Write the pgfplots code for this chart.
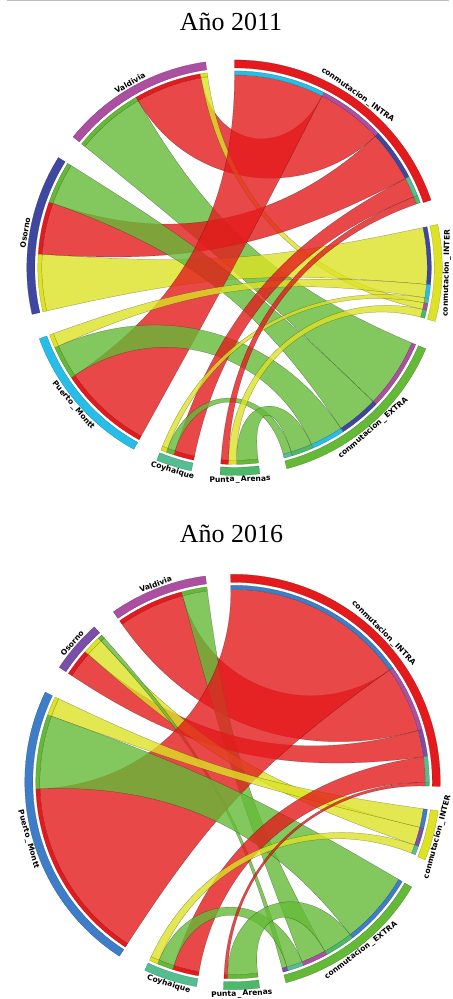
\documentclass[border=0pt]{standalone}
\usepackage{fontspec}
\setmainfont{Liberation Serif}
\newfontfamily\labfont{DejaVu Sans}
\usepackage{pgfplots}
\pgfplotsset{compat=1.18}
\usepackage{pgfplotstable}

\definecolor{cINTRA}{RGB}{228,26,28}
\definecolor{cINTER}{RGB}{221,226,36}
\definecolor{cEXTRA}{RGB}{100,186,55}
\definecolor{cVAL}{RGB}{172,79,160}
\definecolor{cOSa}{RGB}{62,72,160}
\definecolor{cOSb}{RGB}{123,78,170}
\definecolor{cPMa}{RGB}{38,190,232}
\definecolor{cPMb}{RGB}{62,125,200}
\definecolor{cCOY}{RGB}{85,190,145}
\definecolor{cPA}{RGB}{75,185,105}

% ---- 2011: sectors (start/end angle, degrees) ----
\pgfplotstableread{
s1 s2 col
90 19 cINTRA
12 -15 cINTER
-23 -75.4 cEXTRA
-83 -94 cPA
-102 -112 cCOY
-119 -160 cPMa
193 148 cOSa
141 98 cVAL
}\secsA
% ---- 2011: links (origin arc a1-a2, destination arc b1-b2) ----
\pgfplotstableread{
a1 a2 b1 b2 lc oc
141 120 -23 -44 cEXTRA cVAL
120 100 63 43 cINTRA cVAL
100 98 -10.5 -12.5 cINTER cVAL
193 176 12 -5 cINTER cOSa
176 160.5 43 27.5 cINTRA cOSa
160.5 148 -44 -56.5 cEXTRA cOSa
-119 -146 90 63 cINTRA cPMa
-146 -156 -56.5 -66.5 cEXTRA cPMa
-156 -160 -5 -9 cINTER cPMa
-102 -108 27.5 21.5 cINTRA cCOY
-108 -110.3 -72.9 -75.4 cEXTRA cCOY
-110.3 -112 -9 -10.5 cINTER cCOY
-83 -89.4 -66.5 -72.9 cEXTRA cPA
-89.4 -91.8 -12.5 -14.9 cINTER cPA
-91.8 -94 21.5 19.3 cINTRA cPA
}\linksA

% ---- 2016 ----
\pgfplotstableread{
s1 s2 col
90.5 -1.2 cINTRA
-8 -22 cINTER
-30.4 -75.1 cEXTRA
-82.5 -92.5 cPA
-100 -115 cCOY
-123 -205.6 cPMb
146.5 131.7 cOSb
125 97.5 cVAL
}\secsB
\pgfplotstableread{
a1 a2 b1 b2 lc oc
125 105 35.5 15.5 cINTRA cVAL
105 97.5 -61.4 -68.9 cEXTRA cVAL
146.5 138.5 15.5 7.5 cINTRA cOSb
138.5 133 -13.6 -19.1 cINTER cOSb
133 131.7 -73.6 -75.1 cEXTRA cOSb
-123 -178 90.5 35.5 cINTRA cPMb
-178 -200 -30.4 -52.4 cEXTRA cPMb
-200 -205.6 -8 -13.6 cINTER cPMb
-100 -107.7 7.5 -0.2 cINTRA cCOY
-107.7 -112.4 -68.9 -73.6 cEXTRA cCOY
-112.4 -115 -19.1 -21.7 cINTER cCOY
-82.5 -91.5 -52.4 -61.4 cEXTRA cPA
-91.5 -92.5 -0.2 -1.2 cINTRA cPA
}\linksB

\newcommand\ribbon[5]{%
  \pgfmathsetmacro\rbd{mod(abs((#2)-(#3)),360)}%
  \pgfmathsetmacro\kA{193*max(0.1,0.75-0.0035*min(\rbd,360-\rbd))}%
  \pgfmathsetmacro\rbd{mod(abs((#4)-(#1)),360)}%
  \pgfmathsetmacro\kB{193*max(0.1,0.75-0.0035*min(\rbd,360-\rbd))}%
  \edef\temp{\noexpand\fill[fill=#5, fill opacity=0.8, draw=black, draw opacity=0.45, line width=0.25pt]
    (axis cs:{193*cos(#1)},{193*sin(#1)}) arc[start angle=#1, end angle=#2, radius=193pt]
    .. controls (axis cs:{\kA*cos(#2)},{\kA*sin(#2)}) and (axis cs:{\kA*cos(#3)},{\kA*sin(#3)}) .. (axis cs:{193*cos(#3)},{193*sin(#3)})
    arc[start angle=#3, end angle=#4, radius=193pt]
    .. controls (axis cs:{\kB*cos(#4)},{\kB*sin(#4)}) and (axis cs:{\kB*cos(#1)},{\kB*sin(#1)}) .. cycle;}%
  \temp}
\newcommand\annulus[5]{% s1 s2 rin rout color
  \edef\temp{\noexpand\fill[fill=#5, draw=#5!65!black, line width=0.2pt]
   (axis cs:{#4*cos(#1)},{#4*sin(#1)}) arc[start angle=#1, end angle=#2, radius=#4pt]
   -- (axis cs:{#3*cos(#2)},{#3*sin(#2)}) arc[start angle=#2, end angle=#1, radius=#3pt] -- cycle;}%
  \temp}
\newcommand\drawchord[2]{% links, sectors
  \pgfplotstablegetrowsof{#1}\pgfmathtruncatemacro\nrows{\pgfplotsretval-1}%
  \pgfplotsforeachungrouped \i in {0,...,\nrows}{%
    \pgfplotstablegetelem{\i}{a1}\of#1\let\va\pgfplotsretval
    \pgfplotstablegetelem{\i}{a2}\of#1\let\vb\pgfplotsretval
    \pgfplotstablegetelem{\i}{b1}\of#1\let\vc\pgfplotsretval
    \pgfplotstablegetelem{\i}{b2}\of#1\let\vd\pgfplotsretval
    \pgfplotstablegetelem{\i}{lc}\of#1\let\vlc\pgfplotsretval
    \ribbon{\va}{\vb}{\vc}{\vd}{\vlc}}%
  \pgfplotsforeachungrouped \i in {0,...,\nrows}{%
    \pgfplotstablegetelem{\i}{a1}\of#1\let\va\pgfplotsretval
    \pgfplotstablegetelem{\i}{a2}\of#1\let\vb\pgfplotsretval
    \pgfplotstablegetelem{\i}{b1}\of#1\let\vc\pgfplotsretval
    \pgfplotstablegetelem{\i}{b2}\of#1\let\vd\pgfplotsretval
    \pgfplotstablegetelem{\i}{lc}\of#1\let\vlc\pgfplotsretval
    \pgfplotstablegetelem{\i}{oc}\of#1\let\voc\pgfplotsretval
    \annulus{\va}{\vb}{193}{197}{\vlc}%
    \annulus{\vc}{\vd}{193}{197}{\voc}}%
  \pgfplotstablegetrowsof{#2}\pgfmathtruncatemacro\nsec{\pgfplotsretval-1}%
  \pgfplotsforeachungrouped \i in {0,...,\nsec}{%
    \pgfplotstablegetelem{\i}{s1}\of#2\let\va\pgfplotsretval
    \pgfplotstablegetelem{\i}{s2}\of#2\let\vb\pgfplotsretval
    \pgfplotstablegetelem{\i}{col}\of#2\let\vlc\pgfplotsretval
    \annulus{\va}{\vb}{200}{208}{\vlc}}%
}
\newcommand\lab[3]{\node[font=\labfont\bfseries\fontsize{7.6}{9}\selectfont, rotate=#2, inner sep=0pt] at (axis cs:{212.5*cos(#1)},{212.5*sin(#1)}) {#3};}

\begin{document}
\begin{tikzpicture}
\begin{axis}[at={(0pt,479pt)}, anchor=south west, x=1pt, y=1pt,
  xmin=-228, xmax=215, ymin=-252, ymax=268, hide axis, clip=false]
  \draw[black!25, line width=1.2pt] (axis cs:-228,267.4) -- (axis cs:215,267.4);
  \node[anchor=base, font=\fontsize{26}{30}\selectfont] at (axis cs:-3.5,237) {Año 2011};
  \drawchord{\linksA}{\secsA}
  \lab{54.5}{-35.5}{conmutacion\,\_\,INTRA}
  \lab{-1.5}{88.5}{conmutacion\,\_\,INTER}
  \lab{-49.2}{40.8}{conmutacion\,\_\,EXTRA}
  \lab{-88.5}{1.5}{Punta\,\_\,Arenas}
  \lab{-107}{-17}{Coyhaique}
  \lab{-139.5}{-49.5}{Puerto\,\_\,Montt}
  \lab{170.5}{80.5}{Osorno}
  \lab{119.5}{29.5}{Valdivia}
\end{axis}
\begin{axis}[at={(0pt,0pt)}, anchor=south west, x=1pt, y=1pt,
  xmin=-226, xmax=217, ymin=-216, ymax=263, hide axis, clip=false]
  \node[anchor=base, font=\fontsize{26}{30}\selectfont] at (axis cs:-1,240) {Año 2016};
  \drawchord{\linksB}{\secsB}
  \lab{44.6}{-45.4}{conmutacion\,\_\,INTRA}
  \lab{-15}{75}{conmutacion\,\_\,INTER}
  \lab{-52.7}{37.3}{conmutacion\,\_\,EXTRA}
  \lab{-87.5}{2.5}{Punta\,\_\,Arenas}
  \lab{-107.5}{-17.5}{Coyhaique}
  \lab{-164.3}{-74.3}{Puerto\,\_\,Montt}
  \lab{139.1}{49.1}{Osorno}
  \lab{111.25}{21.25}{Valdivia}
\end{axis}
\end{tikzpicture}
\end{document}
